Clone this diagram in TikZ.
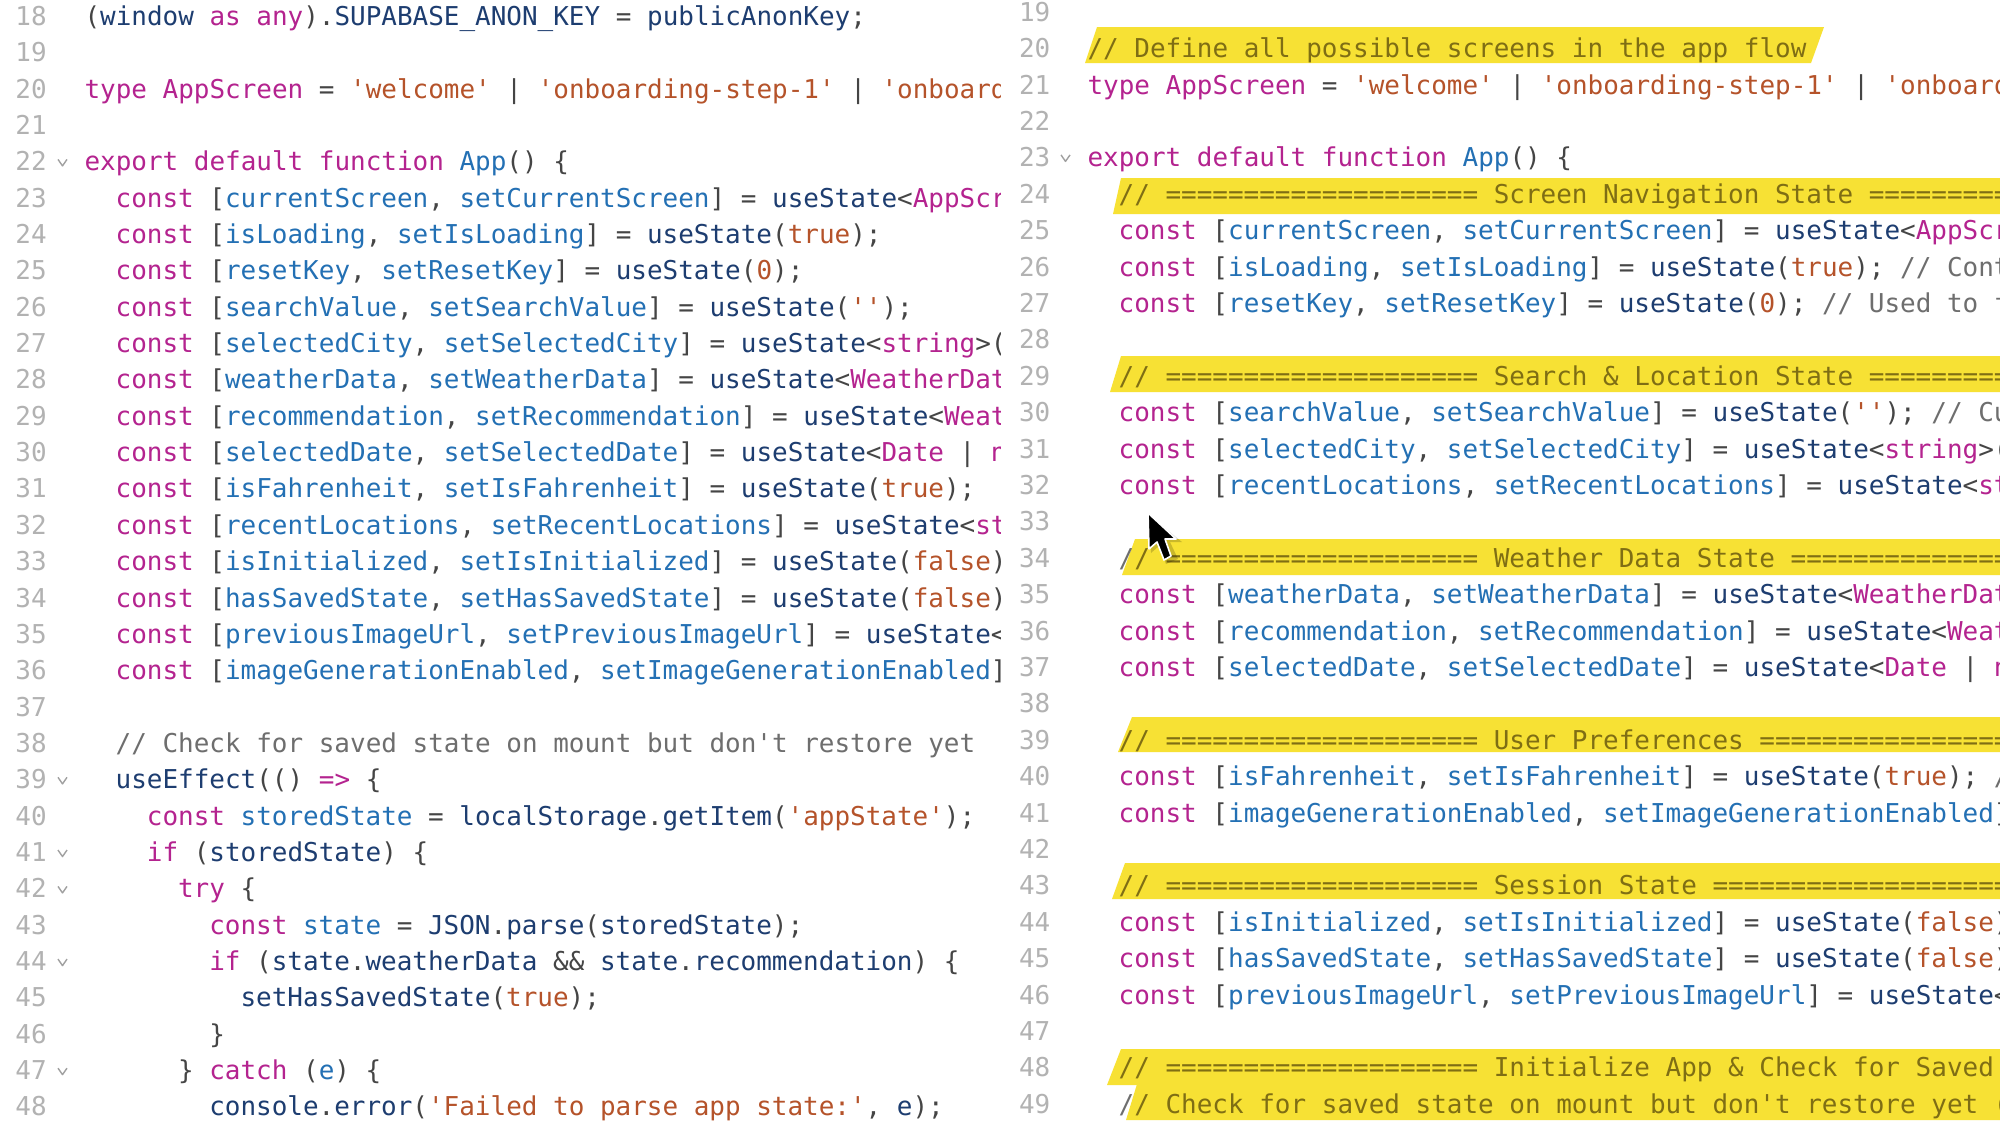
\documentclass[tikz,border=0pt]{standalone}
\usepackage{fontspec}
\newfontfamily\codefont{DejaVu Sans Mono}[Scale=1]
\definecolor{kwc}{HTML}{B4238F}
\definecolor{varc}{HTML}{2370B4}
\definecolor{fnc}{HTML}{1D3D70}
\definecolor{strc}{HTML}{B5532A}
\definecolor{cmc}{HTML}{6E6E6E}
\definecolor{cmy}{HTML}{7F6E14}
\definecolor{puc}{HTML}{454545}
\definecolor{numc}{HTML}{B2B2B2}
\definecolor{hlc}{HTML}{F7E134}
\newcommand{\Kw}[1]{\textcolor{kwc}{#1}}
\newcommand{\Vr}[1]{\textcolor{varc}{#1}}
\newcommand{\Fn}[1]{\textcolor{fnc}{#1}}
\newcommand{\St}[1]{\textcolor{strc}{#1}}
\newcommand{\Cm}[1]{\textcolor{cmc}{#1}}
\newcommand{\Cy}[1]{\textcolor{cmy}{#1}}
\newcommand{\Bars}{====================}
\tikzset{
  codetext/.style={inner sep=0pt,outer sep=0pt,anchor=base west,text=puc,font=\codefont\fontsize{12.98pt}{15pt}\selectfont},
  numtext/.style={codetext,text=numc},
  fold/.style={draw=numc!90!black,line width=0.7pt,line join=round},
  hl/.style={fill=hlc,draw=none}
}
\newcommand{\LL}[3]{%
  \node[numtext] (ln#2) at (15.5,{25.4+36.35*(#2-18)}) {#2};
  \node[codetext] (lc#2) at ({84.5+15.6*#1},{25.4+36.35*(#2-18)}) {#3};}
\newcommand{\LN}[1]{\node[numtext] (ln#1) at (15.5,{25.4+36.35*(#1-18)}) {#1};}
\newcommand{\RL}[3]{%
  \node[numtext] (rn#2) at (1019,{57.7+36.4*(#2-20)}) {#2};
  \node[codetext] (rc#2) at ({1087.5+15.6*#1},{57.7+36.4*(#2-20)}) {#3};}
\newcommand{\RN}[1]{\node[numtext] (rn#1) at (1019,{57.7+36.4*(#1-20)}) {#1};}
\newcommand{\LF}[1]{\draw[fold] (58,{25+36.35*(#1-18)-11}) -- (62.5,{25+36.35*(#1-18)-4.5}) -- (67,{25+36.35*(#1-18)-11});}
\newcommand{\RF}[1]{\draw[fold] (1061,{56.7+36.4*(#1-20)-11}) -- (1065.5,{56.7+36.4*(#1-20)-4.5}) -- (1070,{56.7+36.4*(#1-20)-11});}
\newcommand{\Band}[4]{\fill[hl] (#1,#3) -- (2010,#3) -- (2010,#4) -- (#2,#4) -- cycle;}
\begin{document}
\begin{tikzpicture}[x=0.5pt,y=-0.5pt]
\useasboundingbox (0,0) rectangle (2000,1125);
\fill[white] (0,0) rectangle (2000,1125);
% ---------- left panel
\begin{scope}
\clip (0,0) rectangle (1000.5,1125);
\LL{0}{18}{(\Fn{window} \Kw{as} \Kw{any}).\Fn{SUPABASE\_ANON\_KEY} = \Fn{publicAnonKey};}
\LN{19}
\LL{0}{20}{\Kw{type} \Kw{AppScreen} = \St{'welcome'} | \St{'onboarding-step-1'} | \St{'onboard}}
\LN{21}
\LL{0}{22}{\Kw{export} \Kw{default} \Kw{function} \Vr{App}() \{}
\LL{2}{23}{\Kw{const} [\Vr{currentScreen}, \Vr{setCurrentScreen}] = \Fn{useState}<\Kw{AppScreen}}
\LL{2}{24}{\Kw{const} [\Vr{isLoading}, \Vr{setIsLoading}] = \Fn{useState}(\St{true});}
\LL{2}{25}{\Kw{const} [\Vr{resetKey}, \Vr{setResetKey}] = \Fn{useState}(\St{0});}
\LL{2}{26}{\Kw{const} [\Vr{searchValue}, \Vr{setSearchValue}] = \Fn{useState}(\St{''});}
\LL{2}{27}{\Kw{const} [\Vr{selectedCity}, \Vr{setSelectedCity}] = \Fn{useState}<\Kw{string}>(}
\LL{2}{28}{\Kw{const} [\Vr{weatherData}, \Vr{setWeatherData}] = \Fn{useState}<\Kw{WeatherData}}
\LL{2}{29}{\Kw{const} [\Vr{recommendation}, \Vr{setRecommendation}] = \Fn{useState}<\Kw{Weather}}
\LL{2}{30}{\Kw{const} [\Vr{selectedDate}, \Vr{setSelectedDate}] = \Fn{useState}<\Kw{Date} | \Kw{null}}
\LL{2}{31}{\Kw{const} [\Vr{isFahrenheit}, \Vr{setIsFahrenheit}] = \Fn{useState}(\St{true});}
\LL{2}{32}{\Kw{const} [\Vr{recentLocations}, \Vr{setRecentLocations}] = \Fn{useState}<\Kw{string}}
\LL{2}{33}{\Kw{const} [\Vr{isInitialized}, \Vr{setIsInitialized}] = \Fn{useState}(\St{false});}
\LL{2}{34}{\Kw{const} [\Vr{hasSavedState}, \Vr{setHasSavedState}] = \Fn{useState}(\St{false});}
\LL{2}{35}{\Kw{const} [\Vr{previousImageUrl}, \Vr{setPreviousImageUrl}] = \Fn{useState}<}
\LL{2}{36}{\Kw{const} [\Vr{imageGenerationEnabled}, \Vr{setImageGenerationEnabled}]}
\LN{37}
\LL{2}{38}{\Cm{// Check for saved state on mount but don't restore yet}}
\LL{2}{39}{\Fn{useEffect}(() \Kw{=>} \{}
\LL{4}{40}{\Kw{const} \Vr{storedState} = \Fn{localStorage}.\Fn{getItem}(\St{'appState'});}
\LL{4}{41}{\Kw{if} (\Fn{storedState}) \{}
\LL{6}{42}{\Kw{try} \{}
\LL{8}{43}{\Kw{const} \Vr{state} = \Fn{JSON}.\Fn{parse}(\Fn{storedState});}
\LL{8}{44}{\Kw{if} (\Fn{state}.\Fn{weatherData} \&\& \Fn{state}.\Fn{recommendation}) \{}
\LL{10}{45}{\Fn{setHasSavedState}(\St{true});}
\LL{8}{46}{\}}
\LL{6}{47}{\} \Kw{catch} (\Vr{e}) \{}
\LL{8}{48}{\Fn{console}.\Fn{error}(\St{'Failed to parse app state:'}, \Fn{e});}
\foreach \n in {22,39,41,42,44,47} {\LF{\n}}
\end{scope}
% ---------- right panel: highlights
\fill[hl] (1097,27) -- (1824,27) -- (1811,63) -- (1085,63) -- cycle;
\Band{1121}{1113}{178}{214}
\Band{1121}{1110}{356}{392}
\Band{1135}{1122}{539}{575}
\Band{1132}{1118}{717}{752}
\Band{1125}{1112}{863}{899}
\Band{1121}{1107}{1049}{1085}
\Band{1137}{1126}{1084}{1120}
% ---------- right panel: text
\begin{scope}
\clip (1001,0) rectangle (2000,1125);
\RN{19}
\RL{0}{20}{\Cy{// Define all possible screens in the app flow}}
\RL{0}{21}{\Kw{type} \Kw{AppScreen} = \St{'welcome'} | \St{'onboarding-step-1'} | \St{'onboard}}
\RN{22}
\RL{0}{23}{\Kw{export} \Kw{default} \Kw{function} \Vr{App}() \{}
\RL{2}{24}{\Cy{// \Bars{} Screen Navigation State ==========}}
\RL{2}{25}{\Kw{const} [\Vr{currentScreen}, \Vr{setCurrentScreen}] = \Fn{useState}<\Kw{AppScreen}}
\RL{2}{26}{\Kw{const} [\Vr{isLoading}, \Vr{setIsLoading}] = \Fn{useState}(\St{true}); \Cm{// Cont}}
\RL{2}{27}{\Kw{const} [\Vr{resetKey}, \Vr{setResetKey}] = \Fn{useState}(\St{0}); \Cm{// Used to f}}
\RN{28}
\RL{2}{29}{\Cy{// \Bars{} Search \& Location State ==========}}
\RL{2}{30}{\Kw{const} [\Vr{searchValue}, \Vr{setSearchValue}] = \Fn{useState}(\St{''}); \Cm{// Cu}}
\RL{2}{31}{\Kw{const} [\Vr{selectedCity}, \Vr{setSelectedCity}] = \Fn{useState}<\Kw{string}>(}
\RL{2}{32}{\Kw{const} [\Vr{recentLocations}, \Vr{setRecentLocations}] = \Fn{useState}<\Kw{st}}
\RN{33}
\RL{2}{34}{\Cm{/}\Cy{/ \Bars{} Weather Data State ================}}
\RL{2}{35}{\Kw{const} [\Vr{weatherData}, \Vr{setWeatherData}] = \Fn{useState}<\Kw{WeatherDat}}
\RL{2}{36}{\Kw{const} [\Vr{recommendation}, \Vr{setRecommendation}] = \Fn{useState}<\Kw{Weat}}
\RL{2}{37}{\Kw{const} [\Vr{selectedDate}, \Vr{setSelectedDate}] = \Fn{useState}<\Kw{Date} | \Kw{n}}
\RN{38}
\RL{2}{39}{\Cy{// \Bars{} User Preferences =================}}
\RL{2}{40}{\Kw{const} [\Vr{isFahrenheit}, \Vr{setIsFahrenheit}] = \Fn{useState}(\St{true}); \Cm{/}}
\RL{2}{41}{\Kw{const} [\Vr{imageGenerationEnabled}, \Vr{setImageGenerationEnabled}]}
\RN{42}
\RL{2}{43}{\Cy{// \Bars{} Session State ===================}}
\RL{2}{44}{\Kw{const} [\Vr{isInitialized}, \Vr{setIsInitialized}] = \Fn{useState}(\St{false})}
\RL{2}{45}{\Kw{const} [\Vr{hasSavedState}, \Vr{setHasSavedState}] = \Fn{useState}(\St{false})}
\RL{2}{46}{\Kw{const} [\Vr{previousImageUrl}, \Vr{setPreviousImageUrl}] = \Fn{useState}<}
\RN{47}
\RL{2}{48}{\Cy{// \Bars{} Initialize App \& Check for Saved}}
\RL{2}{49}{\Cm{/}\Cy{/ Check for saved state on mount but don't restore yet (}}
\RF{23}
\end{scope}
% ---------- cursor
\fill[black,opacity=0.18] (1150,516) -- (1151,553) -- (1159,546) -- (1166,564) -- (1178,559) -- (1170,542) -- (1182,542) -- cycle;
\fill[black,draw=white,line width=0.8pt,line join=round] (1148,513) -- (1149,549) -- (1157,542) -- (1164,560) -- (1171,556) -- (1165,539) -- (1176,539) -- cycle;
\end{tikzpicture}
\end{document}
